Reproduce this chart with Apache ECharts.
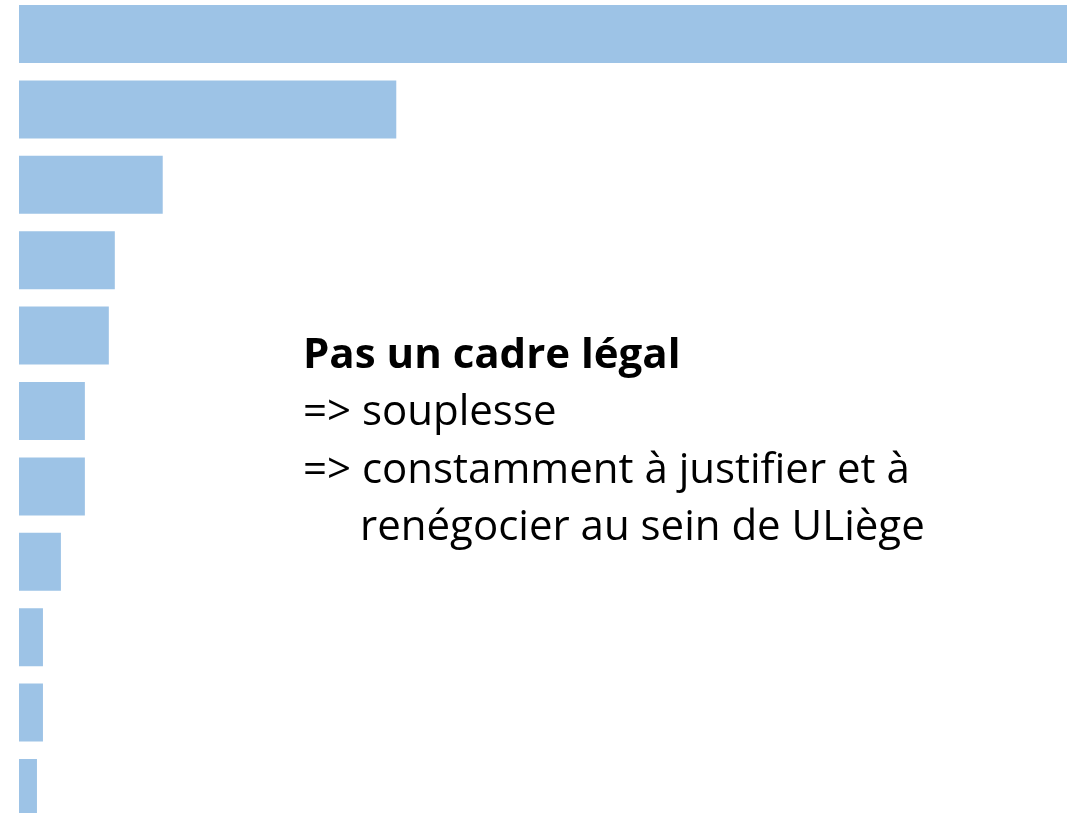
<!DOCTYPE html>
<html>
<head>
<meta charset="UTF-8">
<title>Pas un cadre légal</title>
<style>
body { padding:0; border:0; margin:0; background:#fff; }
</style>
<script src="https://cdn.jsdelivr.net/npm/echarts@6/dist/echarts.min.js"></script>
</head>
<body>
<div id="main" style="width:1069px;height:813px;"></div>
<script>
// données (valeurs estimées)
var categories = ['c1','c2','c3','c4','c5','c6','c7','c8','c9','c10','c11'];
var values = [175, 63, 24, 16, 15, 11, 11, 7, 4, 4, 3];
var titre = 'Pas un cadre légal';
var lignes = ['=> souplesse', '=> constamment à justifier et à', 'renégocier au sein de ULiège'];

var myChart = echarts.init(document.getElementById('main'));
var fontFam = '"Open Sans", sans-serif';

var option = {
    animation: false,
    grid: { left: 19, top: -3.7, width: 1048, height: 829.4, outerBoundsMode: 'none' },
    xAxis: { type: 'value', min: 0, max: 175, show: false },
    yAxis: { type: 'category', data: categories, inverse: true, show: false },
    series: [{
        type: 'bar',
        data: values,
        barWidth: 58,
        itemStyle: { color: '#9dc3e6' },
        silent: true
    }],
    graphic: [
        { type: 'text', left: 303, top: 335, style: { text: titre, font: 'bold 42px ' + fontFam, fill: '#000' } },
        { type: 'text', left: 303, top: 392, style: { text: lignes[0], font: '42px ' + fontFam, fill: '#000' } },
        { type: 'text', left: 303, top: 450, style: { text: lignes[1], font: '42px ' + fontFam, fill: '#000' } },
        { type: 'text', left: 360, top: 507, style: { text: lignes[2], font: '42px ' + fontFam, fill: '#000' } }
    ]
};
myChart.setOption(option);
</script>
</body>
</html>
